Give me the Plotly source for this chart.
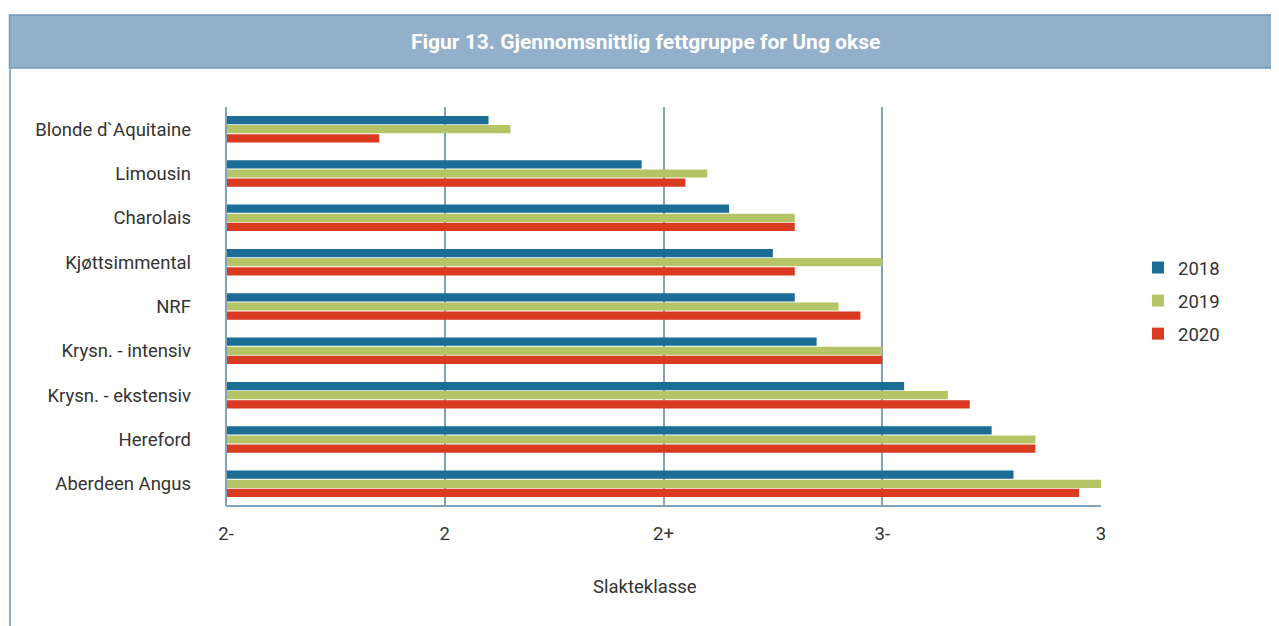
import plotly.graph_objects as go

categories = ["Blonde d`Aquitaine", "Limousin", "Charolais", "Kjøttsimmental", "NRF",
              "Krysn. - intensiv", "Krysn. - ekstensiv", "Hereford", "Aberdeen Angus"]
tick_labels = ["2-", "2", "2+", "3-", "3"]
tick_values = [0, 1, 2, 3, 4]
v2018 = [1.2, 1.9, 2.3, 2.5, 2.6, 2.7, 3.1, 3.5, 3.6]
v2019 = [1.3, 2.2, 2.6, 3.0, 2.8, 3.0, 3.3, 3.7, 4.0]
v2020 = [0.7, 2.1, 2.6, 2.6, 2.9, 3.0, 3.4, 3.7, 3.9]

series = [("2018", v2018, "#1b6d96"), ("2019", v2019, "#b5c566"), ("2020", v2020, "#d93a20")]

OFF = 8  # page body margin
W, H = 1279 - OFF, 626 - OFF
L, R, T, B = 226 - OFF, 1101 - OFF, 107 - OFF, 506 - OFF

def px(x):
    return (x - OFF - L) / (R - L)

def py(y):
    return (B - (y - OFF)) / (B - T)

fig = go.Figure()
for name, vals, col in series:
    fig.add_trace(go.Bar(y=categories, x=vals, name=name, orientation="h", legendgroup=name,
                         marker=dict(color=col, line=dict(width=0))))

font = "Roboto, 'Open Sans', sans-serif"
FS = 18.5
fig.update_layout(
    width=W, height=H,
    margin=dict(l=L, r=W - R, t=T, b=H - B),
    paper_bgcolor="white", plot_bgcolor="white",
    barmode="group", bargap=0.38, bargroupgap=0.1,
    font=dict(family=font, size=FS, color="#333333"),
    showlegend=True,
    legend=dict(x=px(1138), y=py(249), xanchor="left", yanchor="top",
                font=dict(size=FS, color="#333333"), itemsizing="constant",
                tracegroupgap=6, traceorder="grouped", bgcolor="rgba(0,0,0,0)"),
    xaxis=dict(range=[0, 4], tickvals=tick_values, ticktext=tick_labels,
               showgrid=True, gridcolor="#7fa3bf", gridwidth=1.5,
               zeroline=False, showline=False, ticks="",
               ticklabelstandoff=14, tickfont=dict(size=FS, color="#333333"),
               fixedrange=True),
    yaxis=dict(autorange="reversed", showgrid=False, zeroline=False, showline=False,
               ticks="", ticklabelstandoff=34, tickfont=dict(size=FS, color="#333333")),
)

shapes = [
    dict(type="line", xref="paper", yref="paper", x0=0, x1=1, y0=0, y1=0,
         line=dict(color="#7fa3bf", width=2), layer="above"),
    dict(type="line", xref="paper", yref="paper", x0=0, x1=0, y0=0, y1=1,
         line=dict(color="#7fa3bf", width=2), layer="above"),
    # header box
    dict(type="rect", xref="paper", yref="paper", x0=px(9.5), x1=px(1300), y0=py(15), y1=py(68),
         fillcolor="#93b0ca", line=dict(color="#6f98b6", width=1.5), layer="below"),
    # container left border
    dict(type="line", xref="paper", yref="paper", x0=px(10), x1=px(10), y0=py(68), y1=py(660),
         line=dict(color="#8fb2cc", width=2)),
]
fig.update_layout(shapes=shapes)
fig.add_annotation(text="<b>Figur 13. Gjennomsnittlig fettgruppe for Ung okse</b>",
                   xref="paper", yref="paper", x=px(645), y=py(42), showarrow=False,
                   xanchor="center", yanchor="middle",
                   font=dict(family=font, size=21, color="white"))
fig.add_annotation(text="Slakteklasse", xref="paper", yref="paper", x=px(645), y=py(587),
                   showarrow=False, xanchor="center", yanchor="middle",
                   font=dict(family=font, size=FS, color="#333333"))

fig.write_html("out.html")
